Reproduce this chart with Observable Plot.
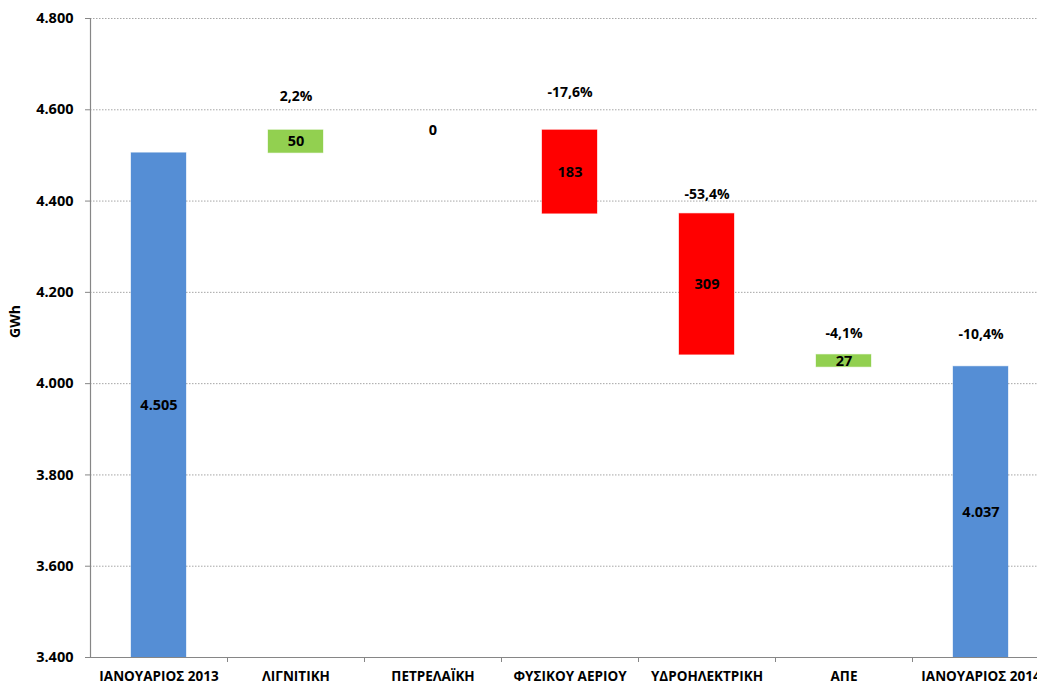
<!DOCTYPE html>
<html>
<head>
<meta charset="utf-8">
<script src="https://cdn.jsdelivr.net/npm/d3@7"></script>
<script src="https://cdn.jsdelivr.net/npm/@observablehq/plot@0.6"></script>
<style>
  html, body { margin: 0; padding: 0; background: #fff; overflow: hidden; }
  #chart svg { display: block; overflow: hidden; }
</style>
</head>
<body>
<div id="chart"></div>
<script>
const categories = ["ΙΑΝΟΥΑΡΙΟΣ 2013", "ΛΙΓΝΙΤΙΚΗ", "ΠΕΤΡΕΛΑΪΚΗ", "ΦΥΣΙΚΟΥ ΑΕΡΙΟΥ", "ΥΔΡΟΗΛΕΚΤΡΙΚΗ", "ΑΠΕ", "ΙΑΝΟΥΑΡΙΟΣ 2014"];
const barStart = [3400, 4505, 4555, 4555, 4372, 4036, 3400];
const barEnd   = [4505, 4555, 4555, 4372, 4063, 4063, 4037];
const values   = [4505, 50, 0, 183, 309, 27, 4037];
const kinds    = ["total", "increase", "increase", "decrease", "decrease", "increase", "total"];
const pctLabels = [null, "2,2%", null, "-17,6%", "-53,4%", "-4,1%", "-10,4%"];
const pctLabelY = [null, 4629, null, 4638, 4414, 4110, 4108];
const yTicks = [3400, 3600, 3800, 4000, 4200, 4400, 4600, 4800];

const locale = d3.formatLocale({decimal: ",", thousands: ".", grouping: [3], currency: ["", ""]});
const fmt = locale.format(",d");

const bars = categories.map((c, i) => ({
  cat: c, y1: barStart[i], y2: barEnd[i], value: values[i], kind: kinds[i],
  mid: (barStart[i] + barEnd[i]) / 2
}));
const flatBars = bars.filter(d => d.y1 === d.y2);
const pcts = categories.map((c, i) => ({cat: c, label: pctLabels[i], y: pctLabelY[i]})).filter(d => d.label);

const W = 1037, H = 684;
const xLeft = 90, xRight = 1049;
const step = (xRight - xLeft) / categories.length;
const barW = 55;
const inset = (step - barW) / 2;
const axisColor = "#868686";

const chart = Plot.plot({
  width: W,
  height: H,
  marginTop: 18,
  marginBottom: 27,
  marginLeft: xLeft,
  marginRight: 0,
  style: {fontFamily: "'Open Sans', sans-serif", fontSize: "14px", fontWeight: "bold", color: "#000", background: "#fff"},
  x: {domain: categories, range: [xLeft, xRight], padding: 0, axis: null},
  y: {domain: [3400, 4800], axis: null},
  color: {domain: ["total", "increase", "decrease"], range: ["#558ED5", "#92D050", "#FF0000"]},
  marks: [
    Plot.gridY(yTicks.filter(t => t > 3400), {stroke: "#a6a6a6", strokeOpacity: 1, strokeDasharray: "1.5,1.5"}),
    Plot.rectY(bars, {x: "cat", y1: "y1", y2: "y2", fill: "kind", stroke: "kind", strokeOpacity: 0.35, insetLeft: inset, insetRight: inset}),
    Plot.ruleY(flatBars, {x: "cat", y: "y1", stroke: "#d5ecc4", strokeWidth: 1, insetLeft: inset, insetRight: inset}),
    Plot.text(bars, {x: "cat", y: "mid", text: d => fmt(d.value), fill: "#000", fontWeight: "bold", fontSize: 14.5}),
    Plot.text(pcts, {x: "cat", y: "y", text: "label", fill: "#000", fontWeight: "bold", fontSize: 14}),
    Plot.ruleY([3400], {stroke: axisColor, strokeWidth: 1.2}),
    Plot.ruleX([categories[0]], {dx: -step / 2, y1: 3400, y2: 4800, stroke: axisColor, strokeWidth: 1.2}),
    Plot.axisY({ticks: yTicks, tickSize: 5, tickPadding: 12, tickFormat: fmt, stroke: axisColor, fill: "#000", fontWeight: "bold", fontSize: 14.5, label: null}),
    Plot.axisX({ticks: categories.slice(0, -1), tickSize: 5, dx: step / 2, tickFormat: () => "", stroke: axisColor, label: null}),
    Plot.axisX({tickSize: 0, tickPadding: 14, fill: "#000", fontWeight: "bold", fontSize: 13.5, label: null}),
    Plot.text(["GWh"], {frameAnchor: "left", dx: -75, rotate: -90, fill: "#000", fontWeight: "bold", fontSize: 14})
  ]
});
document.getElementById("chart").appendChild(chart);
</script>
</body>
</html>
